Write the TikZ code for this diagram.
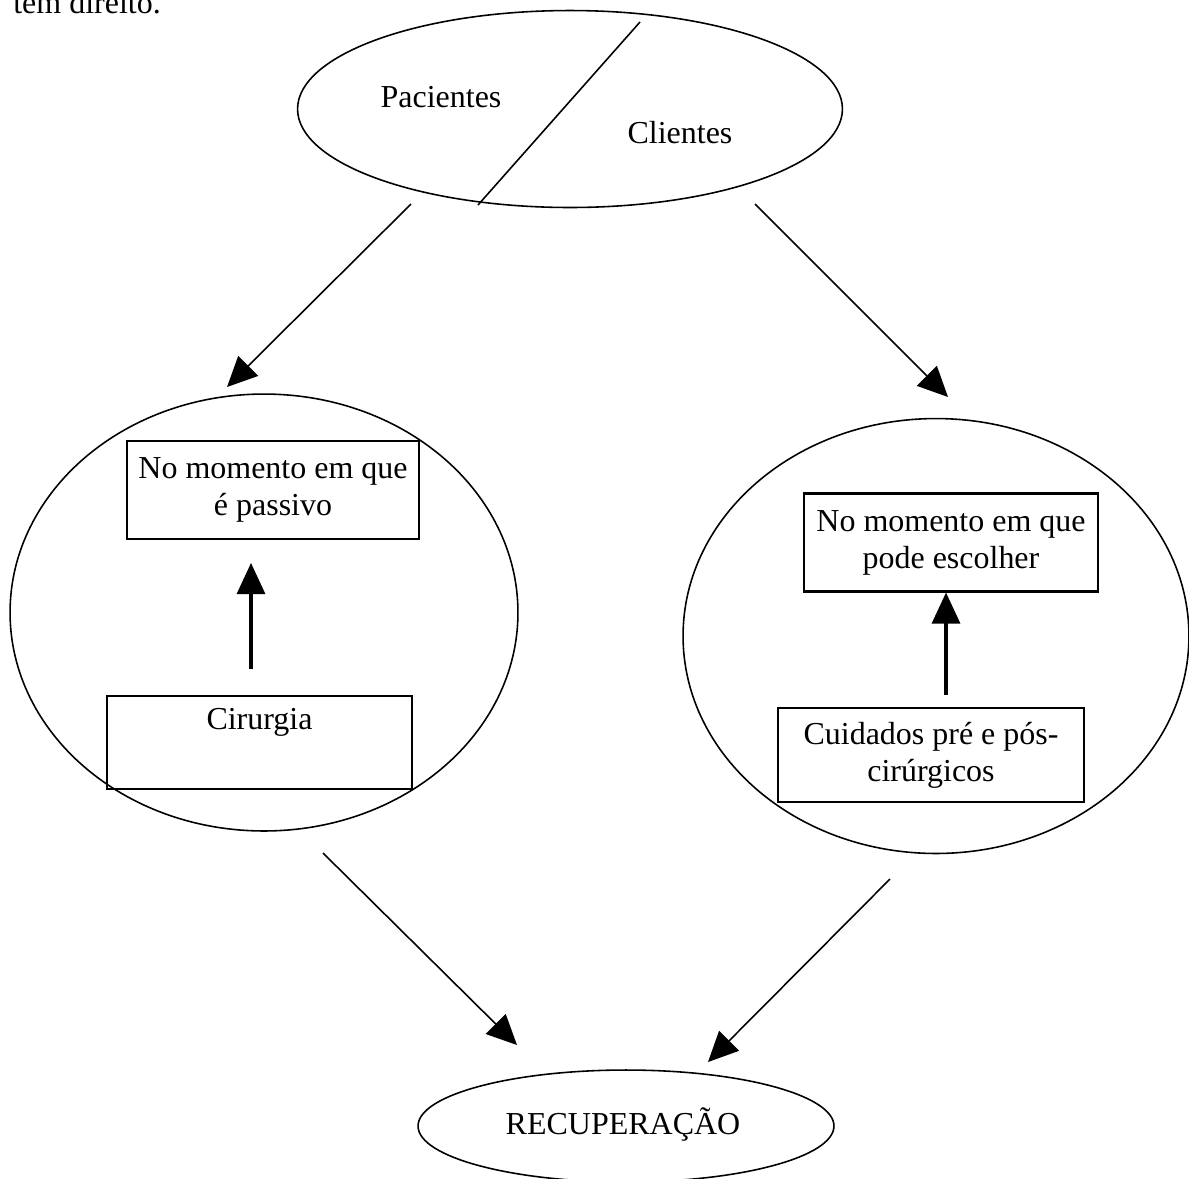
\documentclass[tikz,border=0pt]{standalone}
\usepackage{fontspec}
\setmainfont{Liberation Serif}
\usetikzlibrary{arrows.meta,shapes.geometric}
\begin{document}
\begin{tikzpicture}[x=0.02cm, y=-0.02cm,
  txt/.style={font=\fontsize{18.2}{21}\selectfont, inner sep=0pt, align=center},
  oval/.style={draw, ellipse, line width=0.9pt, inner sep=0pt},
  box/.style={draw, rectangle, line width=1.2pt, txt},
  flow/.style={line width=0.9pt, -{Triangle[length=0.6cm, width=0.56cm]}},
  rise/.style={line width=1.8pt, -{Triangle[length=0.62cm, width=0.56cm]}}]

\useasboundingbox (0,0) rectangle (1189,1178);
\clip (0,0) rectangle (1189,1178);

% line of text running in from the page above
\node[txt, anchor=base west] (prev) at (13,13) {tem direito.};

% top ellipse split by a slanted line
\node[oval, minimum width=10.9cm, minimum height=3.94cm] (grupo) at (570,109) {};
\coordinate (cutA) at (640,22);
\coordinate (cutB) at (478,205);
\draw[line width=0.9pt] (cutA) -- (cutB);
\node[txt] (pac) at (441,97) {Pacientes};
\node[txt] (cli) at (680,133) {Clientes};

% two large ellipses
\node[oval, minimum width=10.16cm, minimum height=8.74cm] (esq) at (264,612.5) {};
\node[oval, minimum width=10.12cm, minimum height=8.7cm] (dir) at (936,636) {};

% boxes inside the left ellipse
\node[box, minimum width=5.84cm, minimum height=1.96cm] (passivo) at (273,490)
  {No momento em que\\é passivo};
\node[box, minimum width=6.1cm, minimum height=1.86cm] (cirurgia) at (259.5,742.5)
  {Cirurgia\\\strut};

% boxes inside the right ellipse
\node[box, minimum width=5.88cm, minimum height=1.96cm] (escolher) at (951,542.5)
  {No momento em que\\pode escolher};
\node[box, minimum width=6.12cm, minimum height=1.88cm] (cuidados) at (931,755)
  {Cuidados pré e pós-\\cirúrgicos};

% bottom ellipse
\node[oval, minimum width=8.32cm, minimum height=2.24cm] (recup) at (626,1126) {};
\node[txt] (recuptxt) at (623,1124) {RECUPERAÇÃO};

% connector end points
\coordinate (a1s) at (411,204);  \coordinate (a1e) at (227,387);
\coordinate (a2s) at (755,204);  \coordinate (a2e) at (948,397);
\coordinate (a3s) at (323,853);  \coordinate (a3e) at (517,1045);
\coordinate (a4s) at (890,879);  \coordinate (a4e) at (708,1062);
\coordinate (v1s) at (251,669);  \coordinate (v1e) at (251,563);
\coordinate (v2s) at (946,695);

\draw[flow] (a1s) -- (a1e);
\draw[flow] (a2s) -- (a2e);
\draw[flow] (a3s) -- (a3e);
\draw[flow] (a4s) -- (a4e);
\draw[rise] (v1s) -- (v1e);
\draw[rise] (v2s) -- (escolher.south -| v2s);
\end{tikzpicture}
\end{document}
